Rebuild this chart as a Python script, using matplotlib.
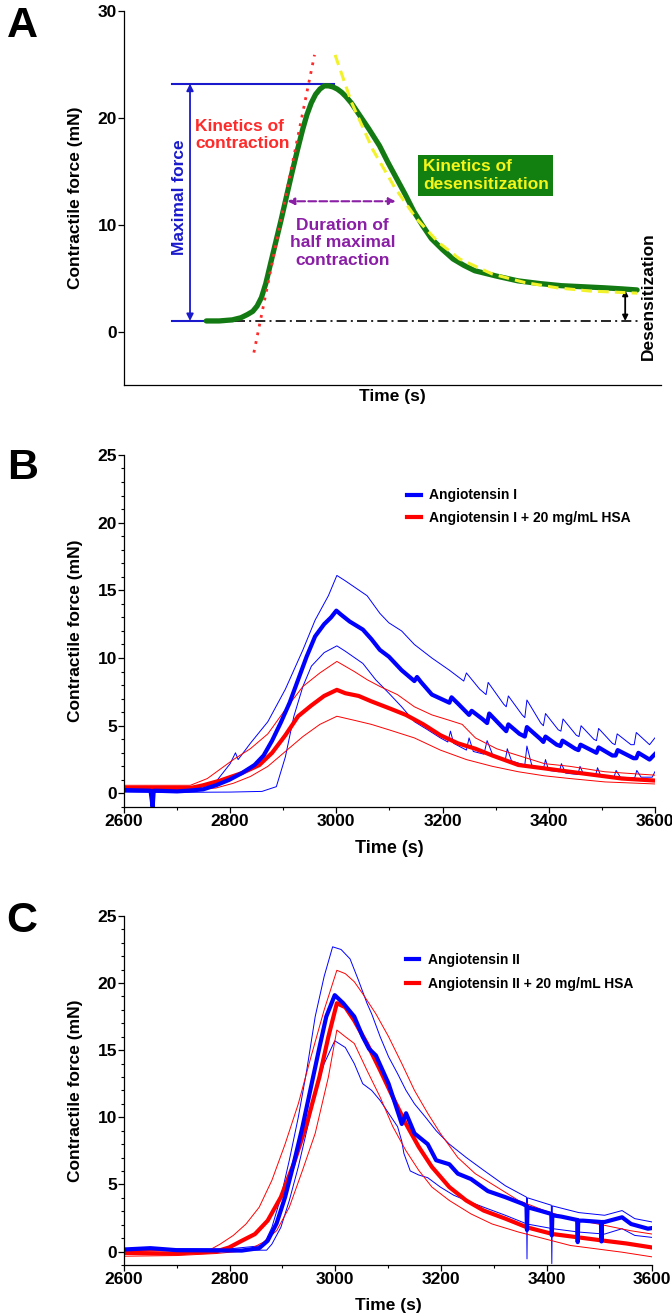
import matplotlib
matplotlib.use("Agg")
import matplotlib.pyplot as plt
from matplotlib.ticker import MultipleLocator

plt.rcParams['font.family'] = ['Liberation Sans', 'DejaVu Sans']
plt.rcParams['font.weight'] = 'bold'
plt.rcParams['axes.labelweight'] = 'bold'

# ---------------- Panel A (schematic trace) ----------------
a_t = [152, 176, 200, 216, 228, 238, 246, 254, 262, 270, 280, 290, 300, 310, 320, 330, 338, 346,
       354, 362, 370, 378, 386, 394, 402, 410, 420, 432, 452, 472, 488, 504, 520, 536, 552, 568,
       588, 608, 628, 648, 688, 728, 768, 808, 848, 888, 920, 948]
a_force = [1.0, 1.0, 1.1, 1.3, 1.6, 1.9, 2.4, 3.2, 4.5, 6.2, 8.3, 10.4, 12.6, 14.8, 16.9, 18.9, 20.3, 21.4,
           22.2, 22.7, 23.0, 23.0, 22.9, 22.7, 22.4, 22.0, 21.4, 20.5, 19.0, 17.4, 15.8, 14.3, 12.8, 11.2,
           9.9, 8.7, 7.7, 6.8, 6.2, 5.7, 5.2, 4.75, 4.5, 4.3, 4.2, 4.1, 4.0, 3.9]

contr_t = [240, 352]
contr_y = [-1.96, 25.9]

desens_t = [390, 420, 460, 500, 540, 580, 620, 680, 740, 800, 860, 948]
desens_y = [25.9, 21.5, 17.0, 13.5, 10.6, 8.4, 6.8, 5.4, 4.6, 4.1, 3.8, 3.6]

baseline = 1.0
peak = 23.2
plateau = 3.9

# ---------------- Panel B (Angiotensin I) ----------------
b_t_blue = [2600, 2650, 2654, 2656, 2660, 2700, 2720, 2749, 2773, 2798, 2822, 2846, 2863, 2879, 2895,
            2912, 2928, 2944, 2960, 2977, 2990, 3000, 3009, 3025, 3050, 3066, 3082, 3099, 3123, 3147,
            3152, 3160, 3180, 3213, 3217, 3230, 3250, 3255, 3275, 3284, 3288, 3310, 3320, 3324, 3345,
            3355, 3359, 3385, 3390, 3394, 3415, 3422, 3426, 3450, 3456, 3460, 3485, 3490, 3494, 3520,
            3526, 3530, 3560, 3565, 3569, 3590, 3600]
b_blue = [0.25, 0.2, -1.0, 0.2, 0.2, 0.15, 0.2, 0.3, 0.6, 1.0, 1.5, 2.1, 2.8, 3.9, 5.2,
          6.7, 8.4, 10.1, 11.6, 12.5, 13.0, 13.5, 13.2, 12.7, 12.1, 11.4, 10.6, 10.1, 9.1, 8.3,
          8.6, 8.2, 7.3, 6.7, 7.1, 6.6, 5.8, 6.1, 5.5, 5.2, 5.9, 5.0, 4.6, 5.1, 4.4,
          4.2, 4.9, 4.0, 3.8, 4.2, 3.6, 3.5, 3.9, 3.3, 3.2, 3.6, 3.1, 3.0, 3.4, 2.8,
          2.8, 3.2, 2.6, 2.6, 3.0, 2.5, 2.9]

b_t_blue_hi = [2600, 2700, 2740, 2773, 2800, 2810, 2815, 2838, 2871, 2904, 2937, 2960, 2985, 3001, 3017,
               3058, 3082, 3099, 3123, 3147, 3180, 3213, 3240, 3245, 3270, 3282, 3286, 3315, 3320, 3324,
               3350, 3355, 3359, 3385, 3390, 3394, 3418, 3423, 3427, 3452, 3457, 3461, 3485, 3490, 3494,
               3520, 3525, 3529, 3555, 3561, 3565, 3590, 3600]
b_blue_hi = [0.35, 0.3, 0.4, 0.85, 2.2, 3.0, 2.5, 3.7, 5.3, 7.7, 10.6, 12.8, 14.6, 16.1, 15.7,
             14.6, 13.3, 12.6, 12.0, 11.0, 10.0, 9.1, 8.3, 8.9, 7.7, 7.3, 8.2, 6.6, 6.4, 7.2,
             5.8, 5.6, 6.9, 5.2, 5.0, 5.9, 4.7, 4.6, 5.5, 4.3, 4.2, 5.0, 4.0, 3.9, 4.8,
             3.7, 3.6, 4.4, 3.6, 3.6, 4.5, 3.6, 4.1]

b_t_blue_lo = [2600, 2700, 2800, 2860, 2887, 2904, 2920, 2937, 2953, 2977, 3001, 3017, 3050, 3074, 3099,
               3123, 3147, 3172, 3196, 3210, 3215, 3221, 3245, 3250, 3258, 3278, 3284, 3295, 3318, 3322,
               3330, 3355, 3359, 3368, 3390, 3394, 3400, 3420, 3424, 3432, 3455, 3459, 3466, 3488, 3492,
               3498, 3523, 3527, 3535, 3562, 3566, 3574, 3595, 3600]
b_blue_lo = [0.1, 0.08, 0.1, 0.15, 0.5, 2.7, 5.7, 7.9, 9.4, 10.4, 10.9, 10.5, 9.6, 8.4, 7.4,
             6.4, 5.3, 4.7, 4.1, 3.8, 4.6, 3.7, 3.2, 4.1, 3.1, 2.9, 3.9, 2.8, 2.4, 3.3,
             2.4, 2.1, 3.5, 2.1, 1.8, 2.5, 1.7, 1.6, 2.2, 1.5, 1.4, 2.0, 1.4, 1.3, 1.9,
             1.3, 1.2, 1.7, 1.2, 1.15, 1.7, 1.2, 1.2, 1.6]

b_t_red = [2600, 2700, 2725, 2749, 2781, 2822, 2855, 2879, 2904, 2928, 2953, 2977, 3001, 3017, 3042,
           3066, 3099, 3131, 3164, 3196, 3229, 3262, 3294, 3343, 3392, 3440, 3489, 3538, 3600]
b_red = [0.4, 0.4, 0.4, 0.6, 0.95, 1.5, 2.1, 3.0, 4.3, 5.7, 6.5, 7.2, 7.65, 7.4, 7.2,
         6.8, 6.3, 5.8, 5.1, 4.3, 3.7, 3.3, 2.8, 2.1, 1.85, 1.6, 1.35, 1.1, 0.95]

b_t_red_hi = [2600, 2700, 2725, 2757, 2806, 2838, 2871, 2904, 2937, 2969, 3001, 3034, 3058, 3082, 3115,
              3147, 3180, 3213, 3237, 3262, 3302, 3343, 3392, 3440, 3506, 3600]
b_red_hi = [0.6, 0.6, 0.6, 1.1, 2.5, 3.3, 4.4, 6.2, 7.9, 8.9, 9.75, 9.0, 8.4, 7.9, 7.3,
            6.4, 5.8, 5.4, 5.1, 4.1, 3.3, 2.8, 2.2, 2.0, 1.6, 1.35]

b_t_red_lo = [2600, 2700, 2740, 2773, 2806, 2838, 2871, 2904, 2937, 2969, 3001, 3034, 3066, 3099, 3147,
              3196, 3245, 3294, 3343, 3392, 3440, 3506, 3600]
b_red_lo = [0.3, 0.3, 0.3, 0.4, 0.75, 1.25, 2.0, 3.1, 4.2, 5.1, 5.7, 5.4, 5.1, 4.7, 4.1,
            3.2, 2.5, 2.0, 1.6, 1.3, 1.1, 0.85, 0.7]

# ---------------- Panel C (Angiotensin II) ----------------
c_t_blue = [2600, 2650, 2700, 2823, 2856, 2872, 2889, 2905, 2921, 2938, 2954, 2970, 2983, 2999, 3015,
            3036, 3052, 3064, 3077, 3101, 3126, 3134, 3150, 3175, 3191, 3216, 3232, 3257, 3289, 3322,
            3355, 3362, 3363, 3364, 3387, 3409, 3410, 3411, 3428, 3458, 3459, 3460, 3469, 3503, 3504,
            3505, 3510, 3543, 3560, 3592, 3600]
c_blue = [0.15, 0.25, 0.1, 0.07, 0.25, 0.8, 2.1, 4.05, 6.5, 9.3, 12.25, 15.2, 17.5, 19.1, 18.5,
          17.5, 16.0, 15.1, 14.6, 12.5, 9.5, 10.3, 8.8, 8.0, 6.8, 6.5, 5.8, 5.4, 4.5, 4.05,
          3.55, 3.4, 1.6, 3.3, 3.05, 2.8, 1.2, 2.7, 2.6, 2.35, 0.7, 2.3, 2.3, 2.2, 0.75,
          2.2, 2.2, 2.55, 2.05, 1.7, 1.75]

c_t_blue_hi = [2600, 2700, 2800, 2864, 2880, 2897, 2913, 2930, 2946, 2962, 2979, 2995, 3011, 3028, 3044,
               3060, 3069, 3085, 3101, 3118, 3134, 3150, 3171, 3191, 3216, 3248, 3281, 3322, 3362, 3363,
               3364, 3409, 3410, 3411, 3461, 3510, 3543, 3567, 3600]
c_blue_hi = [0.2, 0.2, 0.2, 0.45, 1.8, 4.05, 6.8, 10.0, 13.5, 17.5, 20.5, 22.7, 22.5, 21.8, 20.2,
             18.5, 17.7, 16.0, 14.5, 13.25, 12.0, 11.0, 10.0, 9.0, 8.0, 7.0, 6.05, 4.9, 4.05, -0.55,
             4.0, 3.45, -0.9, 3.4, 2.9, 2.7, 3.05, 2.45, 2.2]

c_t_blue_lo = [2600, 2700, 2870, 2880, 2897, 2913, 2930, 2946, 2962, 2979, 2999, 3019, 3036, 3052, 3069,
               3085, 3101, 3118, 3126, 3130, 3142, 3158, 3175, 3199, 3224, 3248, 3281, 3322, 3363, 3412,
               3461, 3510, 3543, 3567, 3600]
c_blue_lo = [0.1, 0.1, 0.1, 0.55, 1.8, 3.8, 6.3, 9.0, 11.75, 14.0, 15.7, 15.2, 14.0, 12.5, 12.0,
             11.25, 10.3, 9.3, 8.2, 7.3, 6.0, 5.7, 5.5, 4.8, 4.2, 3.8, 3.3, 2.7, 2.05, 1.7,
             1.45, 1.3, 1.7, 1.2, 1.05]

c_t_red = [2600, 2690, 2774, 2799, 2823, 2848, 2872, 2897, 2921, 2946, 2970, 2987, 3003, 3019, 3036,
           3060, 3085, 3109, 3134, 3158, 3183, 3216, 3248, 3281, 3322, 3363, 3412, 3461, 3510, 3551, 3600]
c_red = [-0.1, -0.15, 0.0, 0.3, 0.8, 1.3, 2.3, 4.05, 6.5, 9.5, 13.0, 16.0, 18.5, 18.2, 17.2,
         15.5, 13.5, 11.5, 9.5, 7.8, 6.3, 4.8, 3.8, 3.05, 2.45, 1.8, 1.3, 1.05, 0.8, 0.6, 0.3]

c_t_red_hi = [2600, 2700, 2760, 2782, 2807, 2831, 2856, 2880, 2905, 2930, 2954, 2979, 3003, 3019, 3036,
              3052, 3077, 3101, 3126, 3150, 3175, 3199, 3232, 3265, 3306, 3347, 3396, 3445, 3510, 3559, 3600]
c_red_hi = [0.07, 0.05, 0.07, 0.55, 1.2, 2.05, 3.3, 5.3, 8.0, 11.0, 14.5, 18.0, 20.95, 20.7, 20.1,
            19.2, 17.7, 16.0, 14.0, 12.0, 10.3, 8.8, 7.0, 5.8, 4.8, 3.8, 3.05, 2.45, 1.95, 1.55, 1.3]

c_t_red_lo = [2600, 2700, 2774, 2815, 2840, 2864, 2889, 2913, 2938, 2962, 2987, 3003, 3019, 3036, 3060,
              3085, 3109, 3134, 3158, 3183, 3216, 3257, 3297, 3347, 3396, 3445, 3494, 3543, 3600]
c_red_lo = [-0.35, -0.3, -0.15, 0.0, 0.2, 0.7, 1.55, 3.3, 6.05, 8.8, 13.0, 16.5, 16.0, 15.5, 13.5,
            11.5, 9.3, 7.5, 6.05, 4.8, 3.8, 2.8, 2.05, 1.45, 0.95, 0.45, 0.2, -0.05, -0.4]

fig = plt.figure(figsize=(6.72, 13.16), dpi=100)

# ======== A ========
axA = fig.add_axes([0.1845, 0.7074, 0.799, 0.2842])
axA.plot(a_t, a_force, color='#137a13', lw=3.8, solid_capstyle='round', solid_joinstyle='round', zorder=3)
axA.plot(contr_t, contr_y, color='#ff2a2a', lw=2, ls=(0, (1, 2.2)), zorder=4)
axA.plot(desens_t, desens_y, color='#f2f22a', lw=2.2, ls=(0, (3.5, 2)), zorder=4)

# maximal force
axA.plot([88, 388], [peak, peak], color='#1a1acc', lw=1.5)
axA.plot([88, 206], [baseline, baseline], color='#1a1acc', lw=1.5)
axA.annotate('', xy=(122, baseline), xytext=(122, peak),
             arrowprops=dict(arrowstyle='<|-|>', color='#1a1acc', lw=1.3, mutation_scale=10,
                             shrinkA=0, shrinkB=0))
axA.text(102, 12.6, 'Maximal force', color='#1a1acc', rotation=90, ha='center', va='center',
         fontsize=12.5)
axA.text(132, 18.4, 'Kinetics of\ncontraction', color='#ff2a2a', ha='left', va='center',
         fontsize=12.5, linespacing=1.2)

# duration of half maximal contraction
axA.annotate('', xy=(302, 12.2), xytext=(502, 12.2),
             arrowprops=dict(arrowstyle='<|-|>', color='#8a1fa6', lw=1.5, ls='--',
                             mutation_scale=10, shrinkA=0, shrinkB=0))
axA.text(404, 8.3, 'Duration of\nhalf maximal\ncontraction', color='#8a1fa6', ha='center',
         va='center', fontsize=12.5, linespacing=1.2)

axA.text(552, 14.6, 'Kinetics of\ndesensitization', color='#f5f51a', ha='left', va='center',
         fontsize=12.5, linespacing=1.2,
         bbox=dict(boxstyle='square,pad=0.25', fc='#118011', ec='none'))

# desensitization
axA.plot([206, 952], [baseline, baseline], color='black', lw=1.2, ls=(0, (6, 2.5, 1.2, 2.5)), zorder=2)
axA.annotate('', xy=(926, baseline), xytext=(926, plateau),
             arrowprops=dict(arrowstyle='<|-|>', color='black', lw=1.3, mutation_scale=8,
                             shrinkA=0, shrinkB=0))
axA.text(968, 3.3, 'Desensitization', rotation=90, ha='center', va='center', fontsize=12.5)

axA.set_xlim(0, 992)
axA.set_ylim(-5, 30)
axA.set_yticks([0, 10, 20, 30])
axA.set_xticks([])
axA.set_xlabel('Time (s)', fontsize=12.5, labelpad=3)
axA.set_ylabel('Contractile force (mN)', fontsize=12.5)
axA.yaxis.set_label_coords(-0.076, 0.5)

# ======== B ========
axB = fig.add_axes([0.1845, 0.3868, 0.790, 0.2675])
axB.plot(b_t_blue_hi, b_blue_hi, color='#0000ff', lw=0.7)
axB.plot(b_t_blue_lo, b_blue_lo, color='#0000ff', lw=0.7)
axB.plot(b_t_red_hi, b_red_hi, color='#ff0000', lw=0.7)
axB.plot(b_t_red_lo, b_red_lo, color='#ff0000', lw=0.7)
axB.plot(b_t_red, b_red, color='#ff0000', lw=3, label='Angiotensin I + 20 mg/mL HSA')
axB.plot(b_t_blue, b_blue, color='#0000ff', lw=3, label='Angiotensin I')
hB, lB = axB.get_legend_handles_labels()
axB.legend(hB[::-1], lB[::-1], loc='upper left', bbox_to_anchor=(0.533, 0.905), frameon=False,
           fontsize=10, handlelength=1.0, handletextpad=0.6, labelspacing=0.6,
           borderpad=0, borderaxespad=0)
axB.set_ylabel('Contractile force (mN)', fontsize=12.5)
axB.set_xlabel('Time (s)', fontsize=13)
axB.yaxis.set_label_coords(-0.077, 0.5)
axB.xaxis.set_label_coords(0.5, -0.095)

# ======== C ========
axC = fig.add_axes([0.1845, 0.0388, 0.786, 0.2652])
axC.plot(c_t_blue_hi, c_blue_hi, color='#0000ff', lw=0.7)
axC.plot(c_t_blue_lo, c_blue_lo, color='#0000ff', lw=0.7)
axC.plot(c_t_red_hi, c_red_hi, color='#ff0000', lw=0.7)
axC.plot(c_t_red_lo, c_red_lo, color='#ff0000', lw=0.7)
axC.plot(c_t_red, c_red, color='#ff0000', lw=3, label='Angiotensin II + 20 mg/mL HSA')
axC.plot(c_t_blue, c_blue, color='#0000ff', lw=3, label='Angiotensin II')
hC, lC = axC.get_legend_handles_labels()
axC.legend(hC[::-1], lC[::-1], loc='upper left', bbox_to_anchor=(0.533, 0.895), frameon=False,
           fontsize=10, handlelength=1.0, handletextpad=0.6, labelspacing=0.75,
           borderpad=0, borderaxespad=0)
axC.set_ylabel('Contractile force (mN)', fontsize=12.5)
axC.set_xlabel('Time (s)', fontsize=12.5)
axC.yaxis.set_label_coords(-0.077, 0.5)
axC.xaxis.set_label_coords(0.5, -0.095)

for ax in (axB, axC):
    ax.set_xlim(2600, 3600)
    ax.set_ylim(-1, 25)
    ax.xaxis.set_major_locator(MultipleLocator(200))
    ax.xaxis.set_minor_locator(MultipleLocator(100))
    ax.yaxis.set_major_locator(MultipleLocator(5))
    ax.yaxis.set_minor_locator(MultipleLocator(1))
    ax.tick_params(which='minor', length=2.5, width=0.8)

for ax in (axA, axB, axC):
    ax.spines['top'].set_visible(False)
    ax.spines['right'].set_visible(False)
    ax.spines['left'].set_linewidth(0.9)
    ax.spines['bottom'].set_linewidth(0.9)
    ax.tick_params(which='major', length=4, width=0.9, labelsize=12.5, pad=1)

fig.text(0.010, 1 - 6 / 1316, 'A', fontsize=31, fontweight='bold', va='top')
fig.text(0.010, 1 - 448 / 1316, 'B', fontsize=31, fontweight='bold', va='top')
fig.text(0.010, 1 - 901 / 1316, 'C', fontsize=31, fontweight='bold', va='top')

fig.savefig('out.png', dpi=100)
